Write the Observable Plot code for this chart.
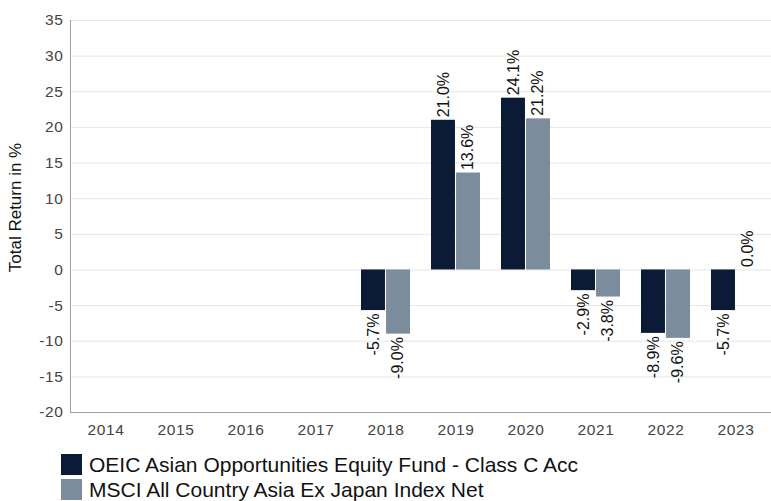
<!DOCTYPE html>
<html>
<head>
<meta charset="utf-8">
<script src="https://cdn.jsdelivr.net/npm/d3@7"></script>
<script src="https://cdn.jsdelivr.net/npm/@observablehq/plot@0.6"></script>
<style>
  html, body { margin: 0; padding: 0; background: #fff; }
  body { font-family: "Liberation Sans", Arial, sans-serif; width: 771px; }
  #legend { margin: 7px 0 0 61px; font-size: 21px; line-height: 24px; color: #111; }
  .row { display: flex; align-items: center; height: 25px; }
  .sw { width: 21px; height: 21px; margin-right: 7px; flex: none; }
  g[aria-label="y-axis tick label"] text, g[aria-label="x-axis tick label"] text { letter-spacing: 0.6px; }
</style>
</head>
<body>
<div id="chart"></div>
<div id="legend"></div>
<script>
const years = ["2014","2015","2016","2017","2018","2019","2020","2021","2022","2023"];
const fundValues  = [null, null, null, null, -5.7, 21.0, 24.1, -2.9, -8.9, -5.7];
const indexValues = [null, null, null, null, -9.0, 13.6, 21.2, -3.8, -9.6, 0.0];
const seriesNames = ["OEIC Asian Opportunities Equity Fund - Class C Acc", "MSCI All Country Asia Ex Japan Index Net"];
const seriesColors = ["#0b1a35", "#7b8c9c"];
const yTicks = [-20, -15, -10, -5, 0, 5, 10, 15, 20, 25, 30, 35];

const W = 771, H = 445, mL = 70, mR = 0, mT = 20, mB = 33;
const padInner = 0.3, padOuter = 0.15;
const step = (W - mL - mR) / (years.length - padInner + 2 * padOuter);
const bw = step * (1 - padInner);
const half = bw / 2;

const rows = [];
[fundValues, indexValues].forEach((vals, s) => {
  vals.forEach((v, i) => {
    if (v !== null) rows.push({year: years[i], series: seriesNames[s], s, value: v});
  });
});
const fundRows = rows.filter(d => d.s === 0);
const indexRows = rows.filter(d => d.s === 1);
const fmt = v => v.toFixed(1) + "%";
const labelStyle = {fontSize: 16, fill: "#111", rotate: -90, fontFamily: "Liberation Sans, Arial, sans-serif"};

const chart = Plot.plot({
  width: W, height: H,
  marginLeft: mL, marginRight: mR, marginTop: mT, marginBottom: mB,
  style: {fontFamily: "Liberation Sans, Arial, sans-serif", fontSize: "15.5px", color: "#444", background: "#fff"},
  x: {type: "band", domain: years, paddingInner: padInner, paddingOuter: padOuter, label: null},
  y: {domain: [-20, 35], label: null},
  marks: [
    Plot.ruleY(yTicks.filter(t => t !== -20), {stroke: "#e6e6e6", strokeWidth: 1}),
    Plot.barY(fundRows, {x: "year", y: "value", fill: seriesColors[0], insetRight: half + 0.5}),
    Plot.barY(indexRows, {x: "year", y: "value", fill: seriesColors[1], insetLeft: half + 0.5}),
    Plot.text(fundRows.filter(d => d.value >= 0), {x: "year", y: "value", text: d => fmt(d.value), dx: -half / 2, dy: -3, textAnchor: "start", ...labelStyle}),
    Plot.text(fundRows.filter(d => d.value < 0), {x: "year", y: "value", text: d => fmt(d.value), dx: -half / 2, dy: 3, textAnchor: "end", ...labelStyle}),
    Plot.text(indexRows.filter(d => d.value >= 0), {x: "year", y: "value", text: d => fmt(d.value), dx: half / 2, dy: -3, textAnchor: "start", ...labelStyle}),
    Plot.text(indexRows.filter(d => d.value < 0), {x: "year", y: "value", text: d => fmt(d.value), dx: half / 2, dy: 3, textAnchor: "end", ...labelStyle}),
    Plot.ruleY([-20], {stroke: "#a0a0a0", strokeWidth: 1}),
    Plot.frame({anchor: "left", stroke: "#a0a0a0"}),
    Plot.axisY({ticks: yTicks, tickFormat: d => String(d), tickSize: 0, tickPadding: 7, fill: "#444", fontSize: 15.5, label: null}),
    Plot.axisX({tickSize: 0, tickPadding: 11, fill: "#444", fontSize: 15.5, label: null}),
    Plot.text(["Total Return in %"], {frameAnchor: "left", dx: -55, dy: -9, rotate: -90, textAnchor: "middle", fontSize: 17, fill: "#111", text: d => d})
  ]
});
document.getElementById("chart").appendChild(chart);

const legend = document.getElementById("legend");
seriesNames.forEach((name, i) => {
  const row = document.createElement("div");
  row.className = "row";
  const sw = document.createElement("span");
  sw.className = "sw";
  sw.style.background = seriesColors[i];
  const t = document.createElement("span");
  t.textContent = name;
  row.appendChild(sw); row.appendChild(t);
  legend.appendChild(row);
});
</script>
</body>
</html>
